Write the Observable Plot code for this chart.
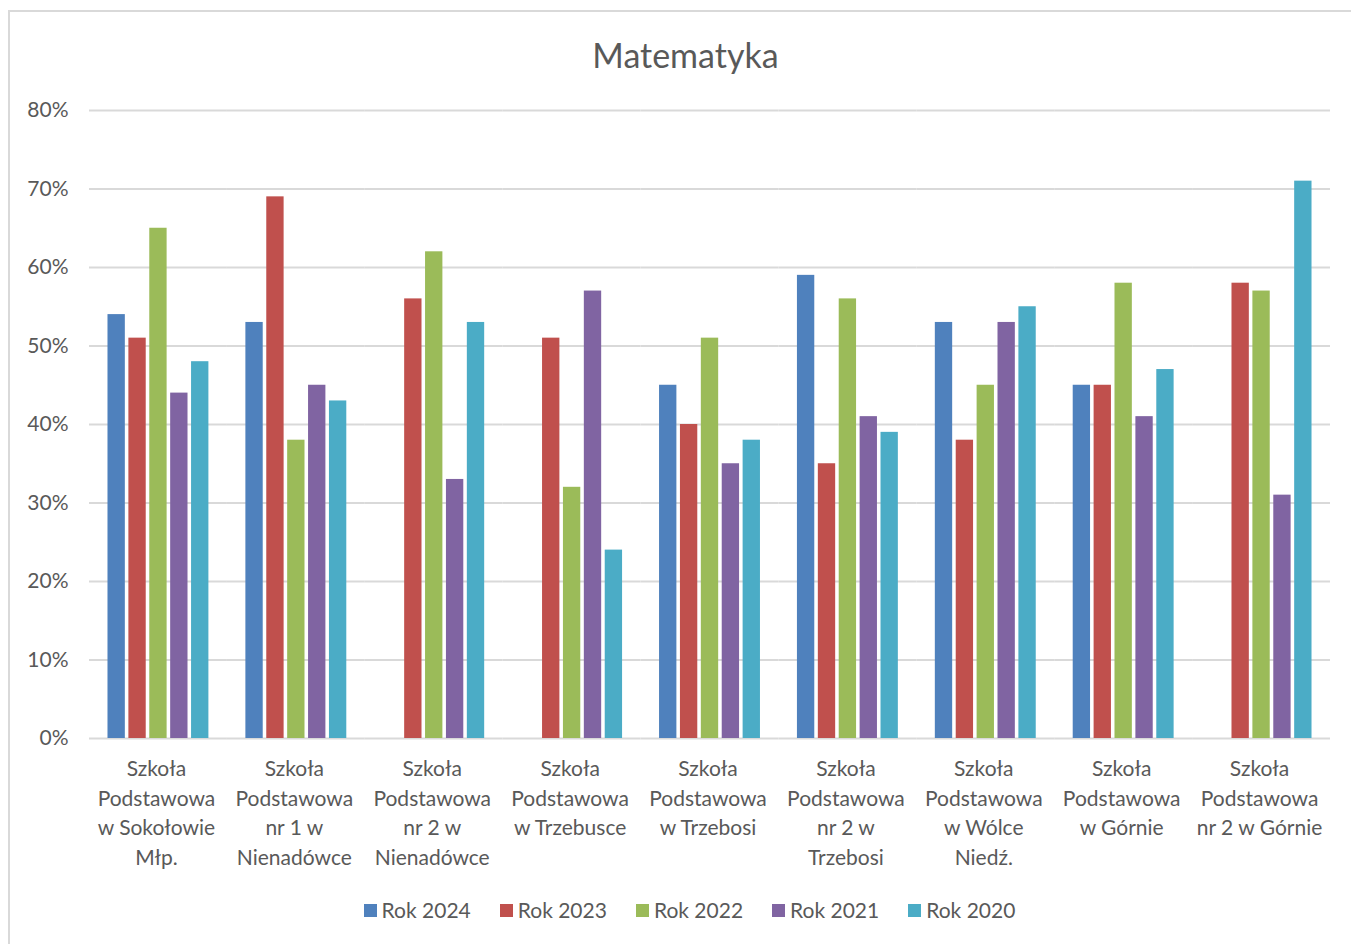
<!DOCTYPE html>
<html><head><meta charset="utf-8">
<script src="https://cdn.jsdelivr.net/npm/d3@7"></script>
<script src="https://cdn.jsdelivr.net/npm/@observablehq/plot@0.6"></script>
<style>
body{margin:0;background:#fff;font-family:Lato,"Open Sans",sans-serif;}
#wrap{position:relative;width:1351px;height:944px;overflow:hidden;}
#frame{position:absolute;left:8px;top:10px;width:1400px;height:1000px;border:2px solid #d9d9d9;box-sizing:border-box;}
#title{position:absolute;top:35px;left:10px;width:1351px;text-align:center;font-size:34px;line-height:40px;color:#595959;}
#chart{position:absolute;left:0;top:0;}
#legend{position:absolute;top:896px;left:14px;width:1351px;display:flex;justify-content:center;gap:29px;font-size:21px;line-height:28px;color:#595959;}
#legend .it{display:flex;align-items:center;gap:5px;}
#legend .sw{width:13px;height:13px;display:inline-block;}
</style>
</head><body>
<div id="wrap">
<div id="frame"></div>
<div id="title">Matematyka</div>
<div id="chart"></div>
<div id="legend"></div>
</div>
<script>
const schools = [
  "Szkoła\nPodstawowa\nw Sokołowie\nMłp.",
  "Szkoła\nPodstawowa\nnr 1 w\nNienadówce",
  "Szkoła\nPodstawowa\nnr 2 w\nNienadówce",
  "Szkoła\nPodstawowa\nw Trzebusce",
  "Szkoła\nPodstawowa\nw Trzebosi",
  "Szkoła\nPodstawowa\nnr 2 w\nTrzebosi",
  "Szkoła\nPodstawowa\nw Wólce\nNiedź.",
  "Szkoła\nPodstawowa\nw Górnie",
  "Szkoła\nPodstawowa\nnr 2 w Górnie"
];
const years = ["Rok 2024", "Rok 2023", "Rok 2022", "Rok 2021", "Rok 2020"];
const colors = ["#4F81BD", "#C0504D", "#9BBB59", "#8064A2", "#4BACC6"];
const rok2024 = [0.54, 0.53, null, null, 0.45, 0.59, 0.53, 0.45, null];
const rok2023 = [0.51, 0.69, 0.56, 0.51, 0.40, 0.35, 0.38, 0.45, 0.58];
const rok2022 = [0.65, 0.38, 0.62, 0.32, 0.51, 0.56, 0.45, 0.58, 0.57];
const rok2021 = [0.44, 0.45, 0.33, 0.57, 0.35, 0.41, 0.53, 0.41, 0.31];
const rok2020 = [0.48, 0.43, 0.53, 0.24, 0.38, 0.39, 0.55, 0.47, 0.71];
const yTicks = [0, 0.1, 0.2, 0.3, 0.4, 0.5, 0.6, 0.7, 0.8];

const series = [rok2024, rok2023, rok2022, rok2021, rok2020];
const rows = [];
schools.forEach((s, i) => {
  years.forEach((y, j) => {
    const v = series[j][i];
    if (v != null) rows.push({school: s, year: y, value: v});
  });
});

const plot = Plot.plot({
  width: 1351,
  height: 890,
  marginTop: 110,
  marginBottom: 152,
  marginLeft: 89,
  marginRight: 21,
  style: {fontFamily: "Lato, 'Open Sans', sans-serif", background: "transparent"},
  fx: {domain: schools, padding: 0, round: false, label: null},
  x: {domain: years, paddingInner: 0.17, paddingOuter: 0.885, round: false, axis: null},
  y: {domain: [0, 0.8], label: null},
  color: {domain: years, range: colors},
  marks: [
    Plot.gridY(yTicks, {stroke: "#d9d9d9", strokeOpacity: 1, strokeWidth: 2}),
    Plot.axisY(yTicks, {tickSize: 0, tickPadding: 21, tickFormat: d3.format(".0%"), fontSize: 21, fill: "#595959", label: null}),
    Plot.axisFx({anchor: "bottom", tickSize: 0, tickPadding: 17, fontSize: 21, fill: "#595959", lineHeight: 1.4, dx: -2, label: null}),
    Plot.barY(rows, {fx: "school", x: "year", y: "value", fill: "year"})
  ]
});
document.getElementById("chart").appendChild(plot);

const leg = document.getElementById("legend");
years.forEach((y, j) => {
  const it = document.createElement("div");
  it.className = "it";
  it.innerHTML = `<span class="sw" style="background:${colors[j]}"></span><span>${y}</span>`;
  leg.appendChild(it);
});
</script>
</body></html>
